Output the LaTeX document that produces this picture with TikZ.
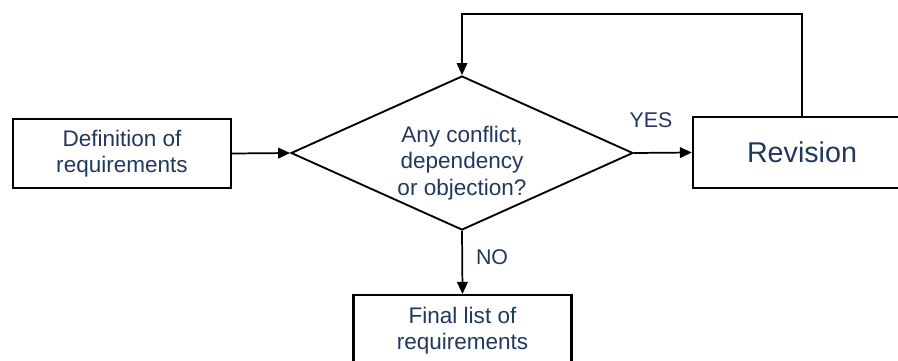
\documentclass[tikz,border=0pt]{standalone}
\usepackage{fontspec}
\setmainfont{Liberation Sans}
\usetikzlibrary{shapes.geometric,arrows.meta}
\definecolor{navy}{RGB}{32,56,96}
\begin{document}
\begin{tikzpicture}[x=0.75pt,y=-0.75pt,
  box/.style={draw, line width=1.8pt, minimum width=163.5pt, minimum height=52pt,
    inner sep=0pt, text=navy, align=center, font=\fontsize{16.9}{19.9}\selectfont},
  decision/.style={draw, diamond, aspect=2.22, minimum width=256.5pt,
    minimum height=115.5pt, inner sep=0pt, line width=1.4pt},
  flow/.style={line width=1.3pt, -{Triangle[length=9pt,width=8pt]}},
  lbl/.style={text=navy, font=\fontsize{16}{19}\selectfont, inner sep=0pt}]
\useasboundingbox (0,0) rectangle (898,360);
% process boxes and the decision
\node[box] (def) at (122,153.5) {Definition of\\requirements};
\node[decision] (q) at (462,153) {};
\node[lbl, align=center, font=\fontsize{16.9}{19.9}\selectfont] (qtext) at (462,163)
  {Any conflict,\\dependency\\or objection?};
\node[box, minimum height=53pt, font=\fontsize{21.5}{25}\selectfont] (rev) at (802,152.5) {Revision};
\node[box, minimum height=53pt] (fin) at (462.5,330.5) {Final list of\\requirements};
% connectors
\coordinate (loop) at (462,14);
\draw[flow] (def.east) -- (q.west);
\draw[flow] (q.east) -- (rev.west);
\draw[flow] (q.south) -- (fin.north);
\draw[flow, line width=1pt] (rev.north) |- (loop) -- (q.north);
% branch labels
\node[lbl] (yes) at (651,120) {YES};
\node[lbl] (no) at (492,257) {NO};
\end{tikzpicture}
\end{document}
